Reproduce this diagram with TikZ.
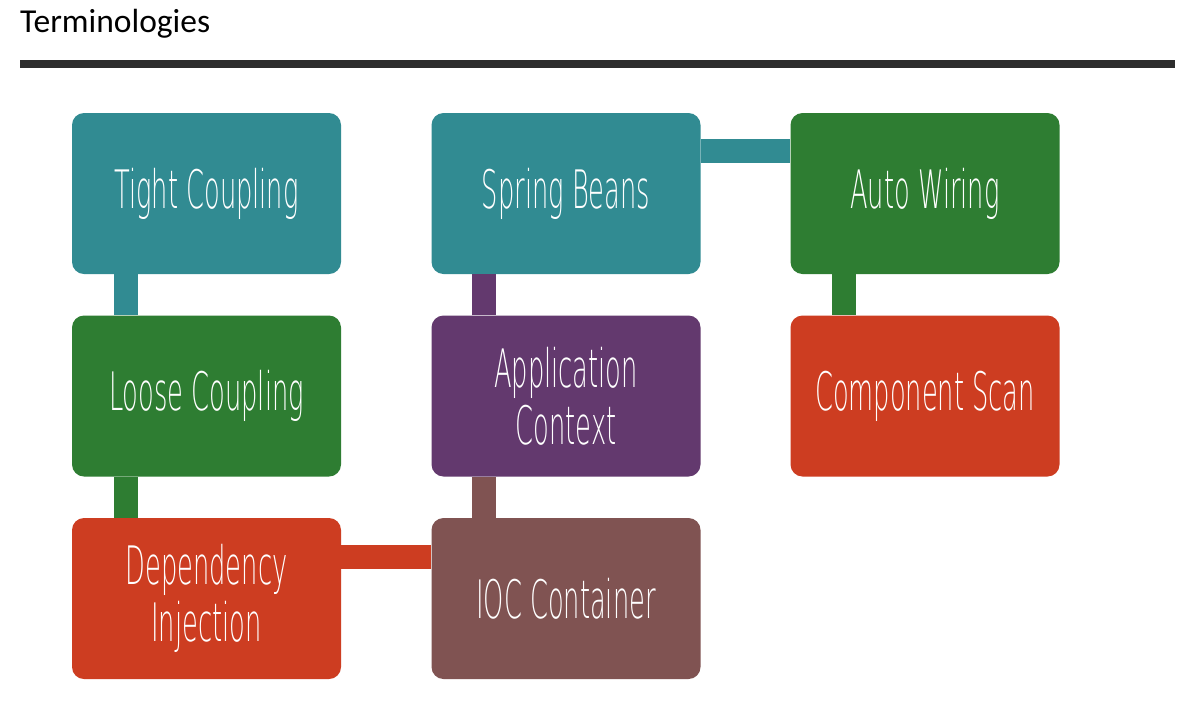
\documentclass[tikz,border=0pt]{standalone}
\usepackage{fontspec}
\usetikzlibrary{calc}
\setmainfont{Carlito}
\newfontfamily\boxfont[FakeStretch=0.485]{DejaVu Sans ExtraLight}
\definecolor{cteal}{RGB}{49,139,146}
\definecolor{cgreen}{RGB}{46,125,50}
\definecolor{cred}{RGB}{205,61,33}
\definecolor{cpurple}{RGB}{99,57,110}
\definecolor{cbrown}{RGB}{128,83,82}
\definecolor{crule}{RGB}{45,45,45}
\begin{document}
\begin{tikzpicture}[x=1pt,y=-1pt,
  term/.style={rectangle, rounded corners=12pt, minimum width=269pt, minimum height=161pt,
    inner sep=0pt, fill=#1, text=white, align=center,
    font=\boxfont\fontsize{53}{57}\selectfont},
  link/.style={line width=24pt, draw=#1, line cap=butt}]
\useasboundingbox (0,0) rectangle (1177,721);
\fill[white] (0,0) rectangle (1177,721);

% heading and rule
\node[anchor=base west, inner sep=0pt, font=\fontsize{33.5}{38}\selectfont] (title) at (20,32) {Terminologies};
\fill[crule] (20,60) rectangle (1175,68);

% terms
\node[term=cteal]   (tight) at (206.5,193.5) {Tight Coupling};
\node[term=cgreen]  (loose) at (206.5,396)   {Loose Coupling};
\node[term=cred]    (di)    at (206.5,598.5) {Dependency\\Injection};
\node[term=cteal]   (beans) at (566,193.5)   {Spring Beans};
\node[term=cpurple] (ctx)   at (566,396)     {Application\\Context};
\node[term=cbrown]  (ioc)   at (566,598.5)   {IOC Container};
\node[term=cgreen]  (auto)  at (925,193.5)   {Auto Wiring};
\node[term=cred]    (scan)  at (925,396)     {Component Scan};

% connectors
\draw[link=cteal]   ($(tight.south west)+(54,0)$) -- ($(loose.north west)+(54,0)$);
\draw[link=cgreen]  ($(loose.south west)+(54,0)$) -- ($(di.north west)+(54,0)$);
\draw[link=cred]    ($(di.north east)+(0,39.5)$) -- ($(ioc.north west)+(0,39.5)$);
\draw[link=cbrown]  ($(ioc.north west)+(53,0)$) -- ($(ctx.south west)+(53,0)$);
\draw[link=cpurple] ($(ctx.north west)+(53,0)$) -- ($(beans.south west)+(53,0)$);
\draw[link=cteal]   ($(beans.north east)+(0,38.5)$) -- ($(auto.north west)+(0,38.5)$);
\draw[link=cgreen]  ($(auto.south west)+(54,0)$) -- ($(scan.north west)+(54,0)$);
\end{tikzpicture}
\end{document}
